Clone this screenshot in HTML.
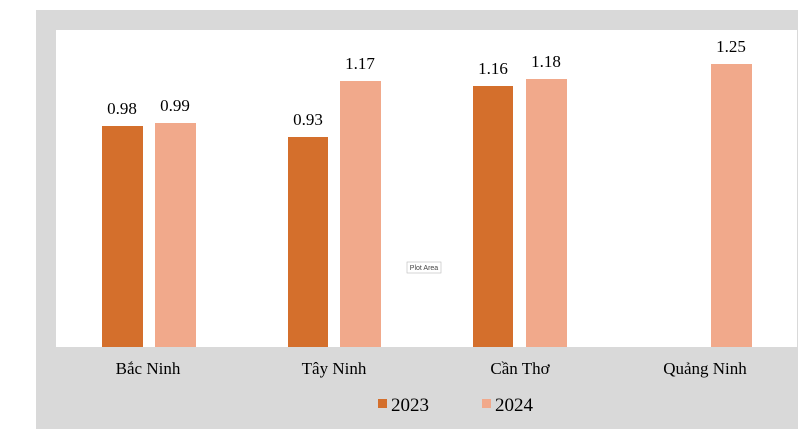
<!DOCTYPE html>
<html><head><meta charset="utf-8"><style>
body{margin:0;width:800px;height:431px;background:#fff;overflow:hidden}
svg text{font-family:"Liberation Serif",serif;fill:#000}
</style></head><body>
<svg width="800" height="431" xmlns="http://www.w3.org/2000/svg">
<rect x="36" y="10" width="762" height="419" fill="#d9d9d9"/>
<rect x="56" y="30" width="741" height="317" fill="#fff"/>
<g fill="#d46f2c">
<rect x="102" y="126" width="41" height="221"/>
<rect x="288" y="137" width="40" height="210"/>
<rect x="473" y="86" width="40" height="261"/>
</g>
<g fill="#f1a98b">
<rect x="155" y="123" width="41" height="224"/>
<rect x="340" y="81" width="41" height="266"/>
<rect x="526" y="79" width="41" height="268"/>
<rect x="711" y="64" width="41" height="283"/>
</g>
<g font-size="17" text-anchor="middle">
<text x="122" y="114">0.98</text>
<text x="175" y="111">0.99</text>
<text x="308" y="125">0.93</text>
<text x="360" y="69">1.17</text>
<text x="493" y="74">1.16</text>
<text x="546" y="67">1.18</text>
<text x="731" y="52">1.25</text>
<text x="148" y="374">Bắc Ninh</text>
<text x="334" y="374">Tây Ninh</text>
<text x="520" y="374">Cần Thơ</text>
<text x="705" y="374">Quảng Ninh</text>
</g>
<g font-size="19">
<text x="391" y="411">2023</text>
<text x="495" y="411">2024</text>
</g>
<rect x="378" y="399" width="9" height="9" fill="#d46f2c"/>
<rect x="482" y="399" width="9" height="9" fill="#f1a98b"/>
<rect x="407" y="262" width="34" height="11" fill="#fff" stroke="#bbb" stroke-width="0.6"/>
<text x="424" y="270" font-size="7" text-anchor="middle" style="font-family:'Liberation Sans',sans-serif;fill:#444">Plot Area</text>
</svg>
</body></html>
